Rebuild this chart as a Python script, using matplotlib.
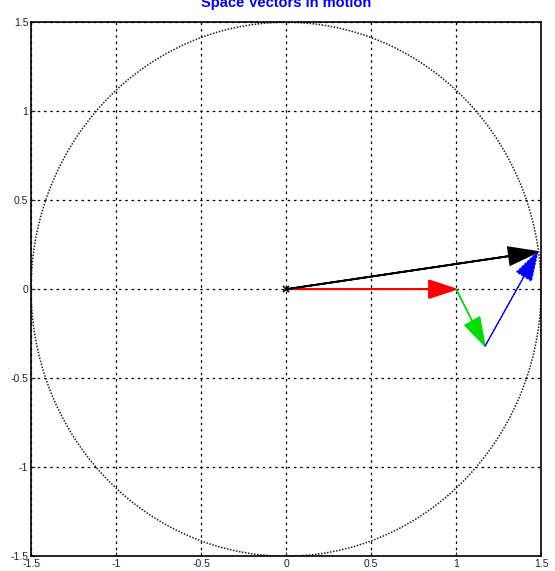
import numpy as np
import matplotlib.pyplot as plt

plt.rcParams['font.family'] = ['Liberation Sans', 'DejaVu Sans']

radius = 1.5
# vector chain: red -> green -> blue, black is the sum
red = [0.0, 0.0, 1.0, 0.0]
green = [1.0, 0.0, 0.17, -0.32]
blue = [1.17, -0.32, 0.31, 0.53]
black = [0.0, 0.0, 1.48, 0.21]
ticks = [-1.5, -1, -0.5, 0, 0.5, 1, 1.5]
tick_labels = ['-1.5', '-1', '-0.5', '0', '0.5', '1', '1.5']

fig = plt.figure(figsize=(5.55, 5.71), dpi=100)
ax = fig.add_axes([0.056, 0.026, 0.919, 0.935])

t = np.linspace(0, 2 * np.pi, 400)
ax.plot(radius * np.cos(t), radius * np.sin(t), color='#222222', lw=1.1, ls=(0, (1, 1)))

ax.arrow(*red, color='red', lw=1.2, head_width=0.1, head_length=0.16,
         length_includes_head=True, zorder=3)
ax.arrow(*green, color='#00dd00', lw=0.9, head_width=0.1, head_length=0.16,
         length_includes_head=True, zorder=3)
ax.arrow(*blue, color='blue', lw=0.9, ls=(0, (2, 1)), head_width=0.1, head_length=0.16,
         length_includes_head=True, zorder=3)
ax.arrow(*black, color='black', lw=1.3, head_width=0.1, head_length=0.17,
         length_includes_head=True, zorder=4)
ax.plot(0, 0, 'x', color='black', ms=5, mew=1.2, zorder=5)

ax.set_xlim(-1.5, 1.5)
ax.set_ylim(-1.5, 1.5)
ax.set_xticks(ticks)
ax.set_xticklabels(tick_labels)
ax.set_yticks(ticks)
ax.set_yticklabels(tick_labels)
ax.tick_params(direction='in', labelsize=7.5, length=3, colors='#222233', pad=2)
ax.grid(True, color='black', ls=(0, (2, 3)), lw=0.9)
for s in ax.spines.values():
    s.set_linewidth(1.2)

fig.text(0.515, 0.983, 'Space Vectors in motion', color='blue', fontweight='bold',
         fontsize=10.5, ha='center', va='bottom')

fig.savefig('out.png', dpi=100)
